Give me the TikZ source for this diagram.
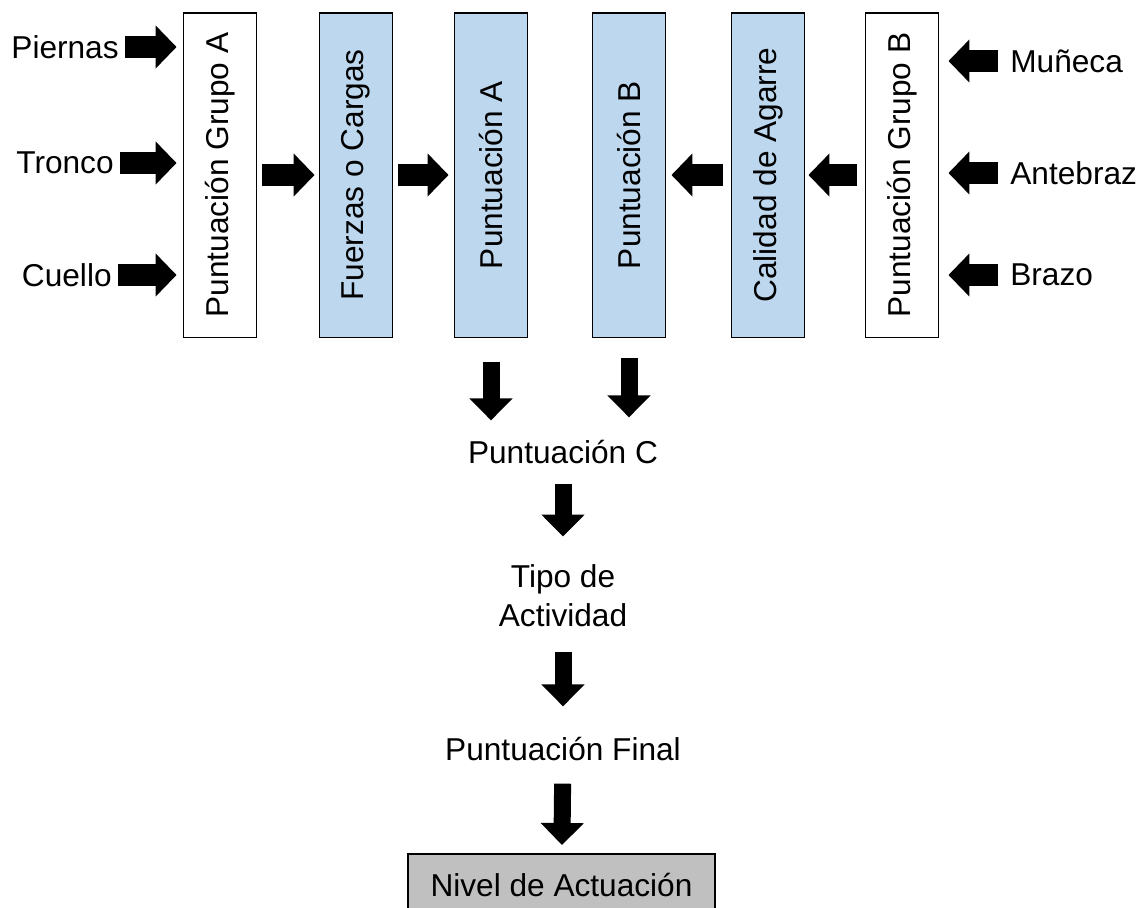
\documentclass[tikz,border=0pt]{standalone}
\usepackage{fontspec}
\setmainfont{Liberation Sans}
\usepackage{xcolor}
\usetikzlibrary{arrows.meta,positioning,calc}
\definecolor{boxblue}{HTML}{BDD7EE}
\definecolor{boxgray}{HTML}{C0C0C0}

\begin{document}
\begin{tikzpicture}[x=0.02cm,y=-0.02cm,
	font=\fontsize{18}{22.2}\selectfont,
	box/.style={draw,line width=1.1pt,minimum width=1.46cm,minimum height=6.5cm,inner sep=0pt},
	pbox/.style={box,fill=boxblue},
	lbl/.style={inner sep=0pt},
	blk/.style={line width=0.44cm,-{Triangle[length=0.42cm,width=0.84cm]}},
	dblk/.style={line width=0.34cm,-{Triangle[length=0.44cm,width=0.84cm]}}]
	\useasboundingbox (0,0) rectangle (1146,907);

	% score boxes
	\node[box]  (ga) at (220,175) {\rotatebox{90}{Puntuación Grupo A}};
	\node[pbox] (fc) at (356,175) {\rotatebox{90}{Fuerzas o Cargas}};
	\node[pbox] (pa) at (491,175) {\rotatebox{90}{Puntuación A}};
	\node[pbox] (pb) at (629,175) {\rotatebox{90}{Puntuación B}};
	\node[pbox] (ca) at (768,175) {\rotatebox{90}{Calidad de Agarre}};
	\node[box]  (gb) at (902,175) {\rotatebox{90}{Puntuación Grupo B}};

	% group A inputs
	\node[lbl,anchor=east] (piernas) at (119,47) {Piernas};
	\node[lbl,anchor=east] (tronco) at (114,163) {Tronco};
	\node[lbl,anchor=east] (cuello) at (112,275) {Cuello};
	\foreach \s in {piernas,tronco,cuello}{
		\draw[blk,shorten <=0.12cm,shorten >=0.12cm] (\s.east) -- (ga.west |- \s);
	}

	% group B inputs
	\node[lbl,anchor=west] (muneca) at (1010,61) {Muñeca};
	\node[lbl,anchor=west] (antebraz) at (1010,173) {Antebraz};
	\node[lbl,anchor=west] (brazo) at (1010,275) {Brazo};
	\foreach \s in {muneca,antebraz,brazo}{
		\draw[blk,shorten <=0.24cm,shorten >=0.18cm] (\s.west) -- (gb.east |- \s);
	}

	% between the boxes
	\draw[blk,shorten <=0.1cm,shorten >=0.08cm] (ga) -- (fc);
	\draw[blk,shorten <=0.1cm,shorten >=0.1cm] (fc) -- (pa);
	\draw[blk,shorten <=0.16cm,shorten >=0.1cm] (ca) -- (pb);
	\draw[blk,shorten <=0.16cm,shorten >=0.06cm] (gb) -- (ca);

	% final chain
	\node[lbl,anchor=base] (pc) at (563,463) {Puntuación C};
	\node[lbl,align=center] (ta) at (563,596) {Tipo de\\Actividad};
	\node[lbl,anchor=base] (pf) at (563,760) {Puntuación Final};
	\node[draw,line width=1.1pt,fill=boxgray,minimum width=6.14cm,minimum height=1.24cm,
		anchor=north] (nv) at (561.5,853) {Nivel de Actuación};

	\draw[dblk,shorten <=0.48cm,shorten >=0.38cm] (pa.south) -- (pa.south |- pc.north);
	\draw[dblk,shorten <=0.4cm,shorten >=0.44cm] (pb.south) -- (pb.south |- pc.north);
	\draw[dblk,shorten <=0.4cm,shorten >=0.56cm] (pc) -- (ta);
	\draw[dblk,shorten <=0.5cm,shorten >=0.6cm] (ta) -- (pf);
	\draw[dblk,shorten <=0.46cm,shorten >=0.16cm] (pf) -- (nv);
\end{tikzpicture}
\end{document}
